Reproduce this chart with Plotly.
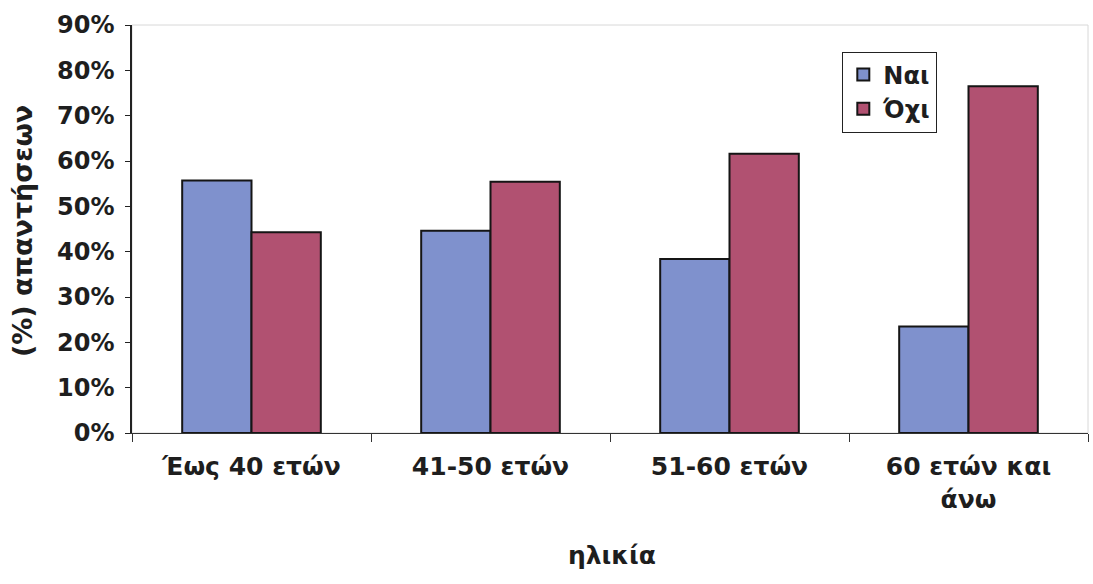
import plotly.graph_objects as go

# Age groups and share of answers per group
categories = ["Έως 40 ετών", "41-50 ετών", "51-60 ετών", "60 ετών και<br>άνω"]
yes_share = [0.557, 0.446, 0.384, 0.235]
no_share = [0.443, 0.554, 0.616, 0.765]
series_names = ["Ναι", "Όχι"]
y_ticks = [0, 0.1, 0.2, 0.3, 0.4, 0.5, 0.6, 0.7, 0.8, 0.9]

FONT = "DejaVu Sans"
TEXT = "#1e1e1e"
BLUE = "#7f91cd"
ROSE = "#b15171"
EDGE = "#151515"

fig = go.Figure()
fig.add_trace(go.Bar(
    x=categories, y=yes_share, name=series_names[0],
    marker=dict(color=BLUE, line=dict(color=EDGE, width=2)),
))
fig.add_trace(go.Bar(
    x=categories, y=no_share, name=series_names[1],
    marker=dict(color=ROSE, line=dict(color=EDGE, width=2)),
))

fig.update_layout(
    width=1093, height=584,
    margin=dict(l=132, r=5, t=25, b=151),
    paper_bgcolor="white", plot_bgcolor="white",
    barmode="group", bargap=0.42, bargroupgap=0,
    font=dict(family=FONT, color=TEXT),
    legend=dict(
        x=0.743, y=0.935, xanchor="left", yanchor="top",
        bgcolor="white", bordercolor="#222222", borderwidth=1,
        font=dict(family=FONT, size=24, weight="bold", color=TEXT),
        itemwidth=30, tracegroupgap=2,
    ),
    showlegend=True,
)

fig.update_yaxes(
    range=[0, 0.9], tickvals=y_ticks, tickformat=".0%",
    showgrid=False, zeroline=False,
    showline=True, linecolor="#222222", linewidth=1.5,
    ticks="outside", ticklen=5, tickcolor="#222222",
    ticklabelstandoff=6,
    tickfont=dict(family=FONT, size=24, weight="bold", color=TEXT),
)
fig.update_xaxes(
    showgrid=False, showline=True, linecolor="#333333", linewidth=1.2,
    ticks="outside", tickson="boundaries", ticklen=8, tickcolor="#333333",
    ticklabelstandoff=11,
    tickfont=dict(family=FONT, size=25, weight="bold", color=TEXT),
)

# faint frame around the plotting area
fig.add_shape(type="rect", xref="x domain", yref="y domain",
              x0=0, x1=1, y0=0, y1=1,
              line=dict(color="#d8d8d8", width=1), layer="below")

# axis titles
fig.add_annotation(text="(%) απαντήσεων", xref="paper", yref="paper",
                   x=-0.115, y=0.495, textangle=-90, showarrow=False,
                   xanchor="center", yanchor="middle",
                   font=dict(family=FONT, size=27, weight="bold", color=TEXT))
fig.add_annotation(text="ηλικία", xref="paper", yref="paper",
                   x=0.502, y=-0.3, showarrow=False,
                   xanchor="center", yanchor="middle",
                   font=dict(family=FONT, size=25, weight="bold", color=TEXT))

fig.write_html("out.html")
